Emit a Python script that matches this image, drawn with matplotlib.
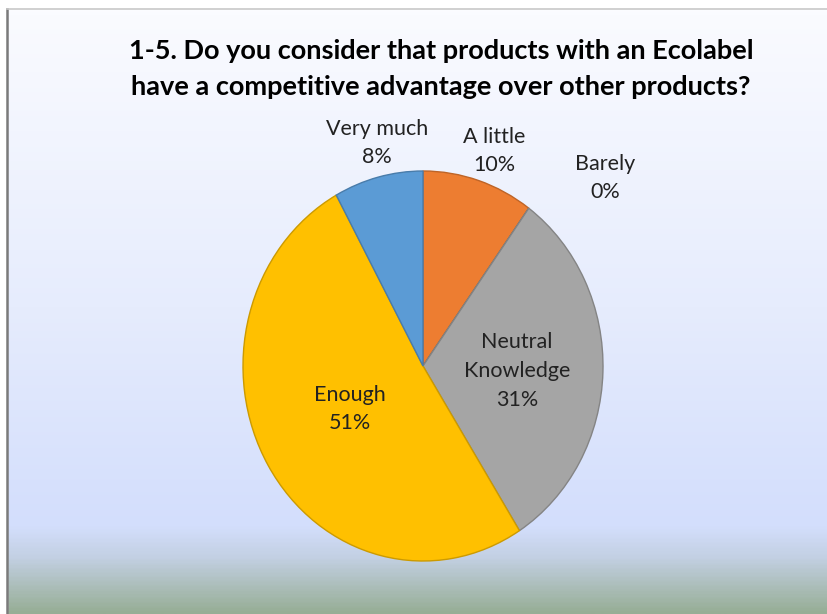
import numpy as np
import matplotlib.pyplot as plt
from matplotlib.colors import LinearSegmentedColormap, to_rgb

# data
categories = ['A little', 'Barely', 'Neutral\nKnowledge', 'Enough', 'Very much']
shares = [10, 0, 31, 51, 8]
pct_labels = ['10%', '0%', '31%', '51%', '8%']
colors = ['#ED7D31', '#7F7F7F', '#A5A5A5', '#FFC000', '#5B9BD5']
title = ('1-5. Do you consider that products with an Ecolabel\n'
         'have a competitive advantage over other products?')

W, H = 828, 614
fig = plt.figure(figsize=(W / 100, H / 100), dpi=100)

# background gradient (white -> light blue -> grey green)
bg = fig.add_axes([0, 0, 1, 1], zorder=0)
bg.set_axis_off()
cmap = LinearSegmentedColormap.from_list('bg', [
    (0.0, '#FFFFFF'), (0.02, '#FAFBFF'), (0.50, '#E6ECFD'),
    (0.86, '#D3DEFC'), (0.91, '#C3D0E3'), (1.0, '#97AE96')])
grad = np.linspace(0, 1, 400).reshape(-1, 1)
bg.imshow(grad, aspect='auto', cmap=cmap, extent=[0, 1, 0, 1], origin='upper')
bg.fill_between([0, 1], 1 - 9 / H, 1, color='white')
bg.fill_between([0, 7 / W], 0, 1, color='white')
bg.plot([7 / W, 7 / W], [0, 1 - 9 / H], color='#7A7A7A', lw=1.8)
bg.plot([7 / W, 1], [1 - 9 / H, 1 - 9 / H], color='#C8C8C8', lw=1.2)
bg.set_xlim(0, 1)
bg.set_ylim(0, 1)

# pie axes (ellipse: wider 360px, taller 390px)
cx, cy, rx, ry = 423, 366, 180, 195
ax = fig.add_axes([(cx - rx) / W, (H - cy - ry) / H, 2 * rx / W, 2 * ry / H], zorder=1)
edges = [tuple(c * 0.8 for c in to_rgb(col)) for col in colors]
wedges, _ = ax.pie(shares, colors=colors, startangle=90, counterclock=False,
                   radius=1, wedgeprops=dict(linewidth=1.0))
for w, e in zip(wedges, edges):
    w.set_edgecolor(e)
ax.set_xlim(-1, 1)
ax.set_ylim(-1, 1)
ax.set_aspect('auto')
ax.set_axis_off()

# label positions in pixels
label_pos = [(494, 151), (605, 178), (517, 371), (350, 409), (377, 143)]
for cat, pct, (px, py) in zip(categories, pct_labels, label_pos):
    fig.text(px / W, 1 - py / H, cat + '\n' + pct, ha='center', va='center',
             fontsize=15.5, family='Lato', color='#222222', linespacing=1.55,
             zorder=3)

fig.text(441 / W, 1 - 69 / H, title, ha='center', va='center', fontsize=19.5,
         family='Lato', fontweight='bold', color='black', linespacing=1.6)

fig.savefig('out.png', dpi=100)
